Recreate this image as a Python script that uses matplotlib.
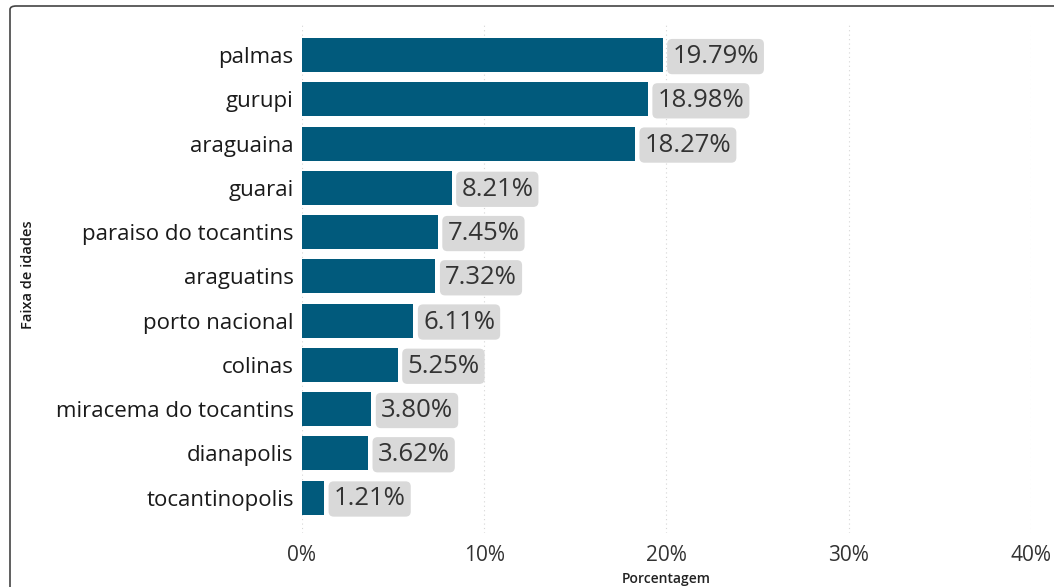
import matplotlib

matplotlib.use("Agg")
import matplotlib.pyplot as plt
from matplotlib.patches import FancyBboxPatch
from matplotlib.ticker import FuncFormatter

plt.rcParams["font.family"] = ["Open Sans", "DejaVu Sans"]

cidades = [
    "palmas", "gurupi", "araguaina", "guarai", "paraiso do tocantins",
    "araguatins", "porto nacional", "colinas", "miracema do tocantins",
    "dianapolis", "tocantinopolis",
]
percentuais = [19.79, 18.98, 18.27, 8.21, 7.45, 7.32, 6.11, 5.25, 3.80, 3.62, 1.21]
x_ticks = [0, 10, 20, 30, 40]

BAR_COLOR = "#015a7c"
TEXT_COLOR = "#333333"

fig = plt.figure(figsize=(10.54, 5.87), dpi=100)
ax = fig.add_axes([0.2865, 0.092, 0.6915, 0.8705])

# moldura do visual
frame = FancyBboxPatch(
    (10 / 1054, -0.05), 1.2, 1.0 - 6 / 587 + 0.05,
    boxstyle="round,pad=0,rounding_size=0.006",
    transform=fig.transFigure, fill=False, edgecolor="#444444",
    linewidth=1.2, clip_on=False,
)
fig.patches.append(frame)

pos = list(range(len(cidades)))
ax.barh(pos, percentuais, height=0.77, color=BAR_COLOR, zorder=3)

for y, v in zip(pos, percentuais):
    ax.annotate(
        f"{v:.2f}%", xy=(v, y), xytext=(7, -1), textcoords="offset points",
        ha="left", va="center", fontsize=18.5, color=TEXT_COLOR, zorder=4,
        bbox=dict(boxstyle="round,pad=0.2,rounding_size=0.2",
                  facecolor="#d9d9d9", edgecolor="none"),
    )

ax.set_xlim(0, 40)
ax.set_ylim(10.8, -0.75)
ax.set_xticks(x_ticks)
ax.xaxis.set_major_formatter(FuncFormatter(lambda v, _: f"{v:.0f}%"))
ax.set_yticks(pos)
ax.set_yticklabels(cidades)
ax.tick_params(axis="x", length=0, pad=9, labelsize=15, labelcolor=TEXT_COLOR)
ax.tick_params(axis="y", length=0, pad=6, labelsize=16, labelcolor="#1a1a1a")
ax.grid(axis="x", color="#d6d6d6", linestyle=(0, (1, 3)), linewidth=0.8, zorder=0)
for spine in ax.spines.values():
    spine.set_visible(False)

ax.set_xlabel("Porcentagem", fontsize=10, color="#222222", labelpad=4,
              fontweight="semibold")
fig.text(28 / 1054, 1 - 275 / 587, "Faixa de idades", rotation=90,
         ha="center", va="center", fontsize=10.5, color="#1a1a1a",
         fontweight="semibold")

fig.savefig("out.png", dpi=100)
